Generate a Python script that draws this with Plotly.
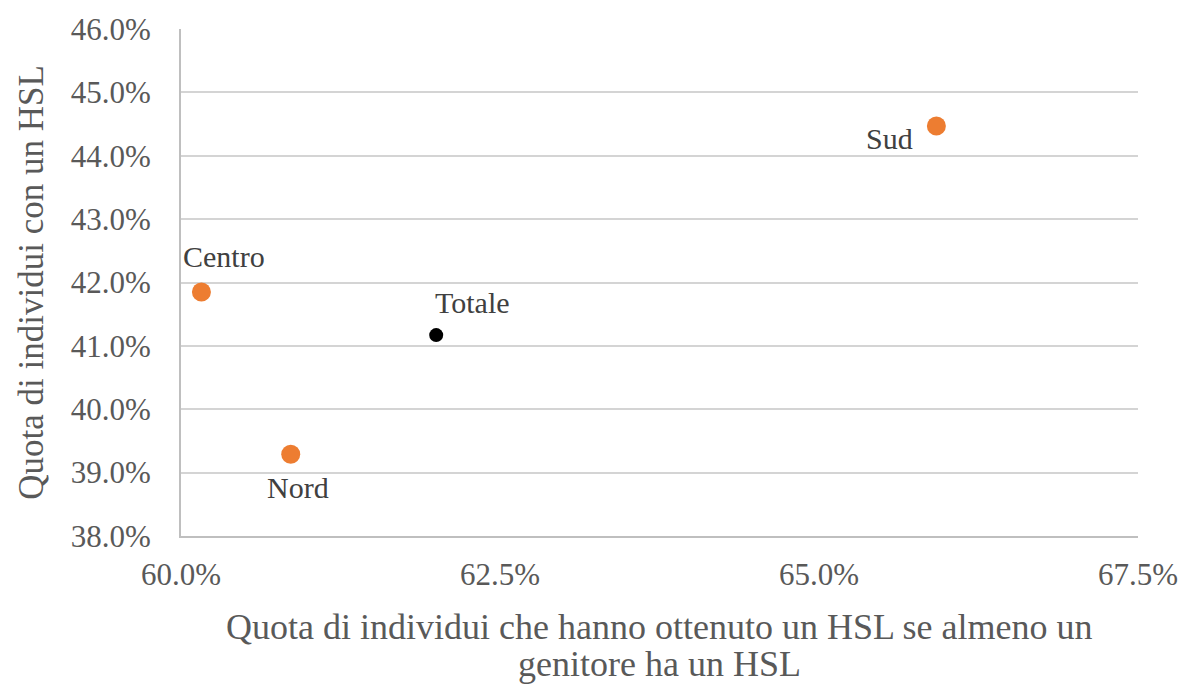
import plotly.graph_objects as go

# Data (shares)
regions = ["Sud", "Centro", "Nord"]
x_regions = [0.6592, 0.6016, 0.6086]
y_regions = [0.4447, 0.4185, 0.3929]
total_label = ["Totale"]
x_total = [0.6200]
y_total = [0.4117]

x_ticks = [0.60, 0.625, 0.65, 0.675]
y_ticks = [0.38, 0.39, 0.40, 0.41, 0.42, 0.43, 0.44, 0.45, 0.46]
x_title_lines = ["Quota di individui che hanno ottenuto un HSL se almeno un",
                 "genitore ha un HSL"]
y_title = "Quota di individui con un HSL"

FONT = "Liberation Serif, Times New Roman, serif"
LABEL_FONT = dict(family=FONT, size=30, color="#404040")

fig = go.Figure()
fig.add_trace(go.Scatter(
    x=x_regions, y=y_regions, mode="markers",
    marker=dict(color="#ED7D31", size=19),
    showlegend=False, cliponaxis=False,
))
fig.add_trace(go.Scatter(
    x=x_total, y=y_total, mode="markers",
    marker=dict(color="#000000", size=14),
    showlegend=False, cliponaxis=False,
))

# label offsets (pixels) per point: Sud, Centro, Nord
shifts = [(-47, -13), (23, 36), (7, -33)]
for name, xv, yv, (dx, dy) in zip(regions, x_regions, y_regions, shifts):
    fig.add_annotation(x=xv, y=yv, text=name, showarrow=False,
                       xshift=dx, yshift=dy, font=LABEL_FONT)
for name, xv, yv in zip(total_label, x_total, y_total):
    fig.add_annotation(x=xv, y=yv, text=name, showarrow=False,
                       xshift=36, yshift=33, font=LABEL_FONT)

# x-axis title as two lines
for i, line in enumerate(x_title_lines):
    fig.add_annotation(xref="paper", yref="paper", x=0.5, y=0, yanchor="middle",
                       yshift=-91 - 37 * i, text=line, showarrow=False,
                       font=dict(family=FONT, size=36, color="#595959"))

fig.update_layout(
    width=1193, height=684,
    margin=dict(l=181, r=55, t=27, b=148),
    plot_bgcolor="white", paper_bgcolor="white",
    font=dict(family=FONT, color="#595959", size=31),
)
fig.update_xaxes(
    range=[0.60, 0.675], tickvals=x_ticks, tickformat=".1%",
    showgrid=False, zeroline=False,
    showline=True, linecolor="#bfbfbf", linewidth=2,
    ticks="", ticklabelstandoff=10,
    tickfont=dict(size=31, color="#595959"),
)
fig.update_yaxes(
    range=[0.38, 0.46], tickvals=y_ticks, tickformat=".1%",
    showgrid=True, gridcolor="#d4d4d4", gridwidth=2, zeroline=False,
    showline=True, linecolor="#bfbfbf", linewidth=2,
    ticks="", ticklabelstandoff=22,
    tickfont=dict(size=31, color="#595959"),
    title=dict(text=y_title, font=dict(size=35, color="#595959"), standoff=16),
)

fig.write_html("out.html")
